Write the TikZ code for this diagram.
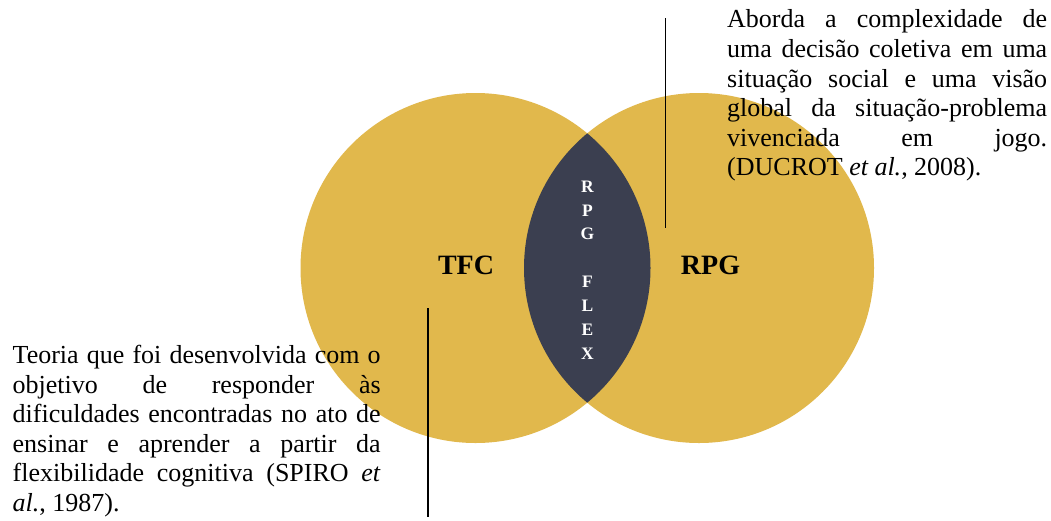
\documentclass[tikz,border=0pt]{standalone}
\usepackage{fontspec}
\setmainfont{Liberation Serif}
\definecolor{gold}{HTML}{E1B84C}
\definecolor{lensdark}{HTML}{3B3F50}
\begin{document}
\begin{tikzpicture}[x=1pt,y=-1pt,
  setcircle/.style={circle, fill=gold, draw=none, minimum size=350pt, inner sep=0pt},
  desc/.style={font={\fontsize{26}{29.6}\selectfont\tolerance=10000\hyphenpenalty=10000\exhyphenpenalty=10000},
    align=justify, inner sep=0pt, anchor=north west},
  bigtag/.style={font={\fontsize{28}{30}\selectfont\bfseries}, inner sep=0pt},
  lensletters/.style={font={\fontsize{17.5}{23.9}\selectfont\bfseries}, text=white, align=center, inner sep=0pt, anchor=north},
  leader/.style={line width=1.5pt, draw=black}]
\useasboundingbox (0,0) rectangle (1051,520);
\fill[white] (0,0) rectangle (1051,520);
% circles
\node[setcircle] (tfc) at (475.5,268) {};
\node[setcircle] (rpg) at (699,268) {};
% intersection lens
\begin{scope}
  \clip (tfc.center) circle (175);
  \fill[lensdark] (rpg.center) circle (175);
\end{scope}
% labels
\node[bigtag] (tfclabel) at (466,265) {TFC};
\node[bigtag] (rpglabel) at (710.5,265) {RPG};
\node[lensletters] (flex) at (587.5,180.5) {R\\P\\G\\[23.9pt]F\\L\\E\\X};
% leader lines
\coordinate (rtop) at (665.5,18);
\coordinate (rbot) at (665.5,228);
\coordinate (ltop) at (428,308);
\coordinate (lbot) at (428,517);
\draw[leader] (rtop) -- (rbot);
\draw[leader] (ltop) -- (lbot);
% descriptions
\node[desc, text width=320pt] (rpgtext) at (727,9.6) {Aborda a complexidade de\linebreak uma decisão coletiva em uma\linebreak situação social e uma visão\linebreak global da situação-problema\linebreak vivenciada em jogo.\linebreak (DUCROT \textit{et al.}, 2008).};
\node[desc, text width=368pt] (tfctext) at (12.5,345) {Teoria que foi desenvolvida com o\linebreak objetivo de responder às\linebreak dificuldades encontradas no ato de\linebreak ensinar e aprender a partir da\linebreak flexibilidade cognitiva (SPIRO \textit{et}\linebreak \textit{al.}, 1987).};
\end{tikzpicture}
\end{document}
